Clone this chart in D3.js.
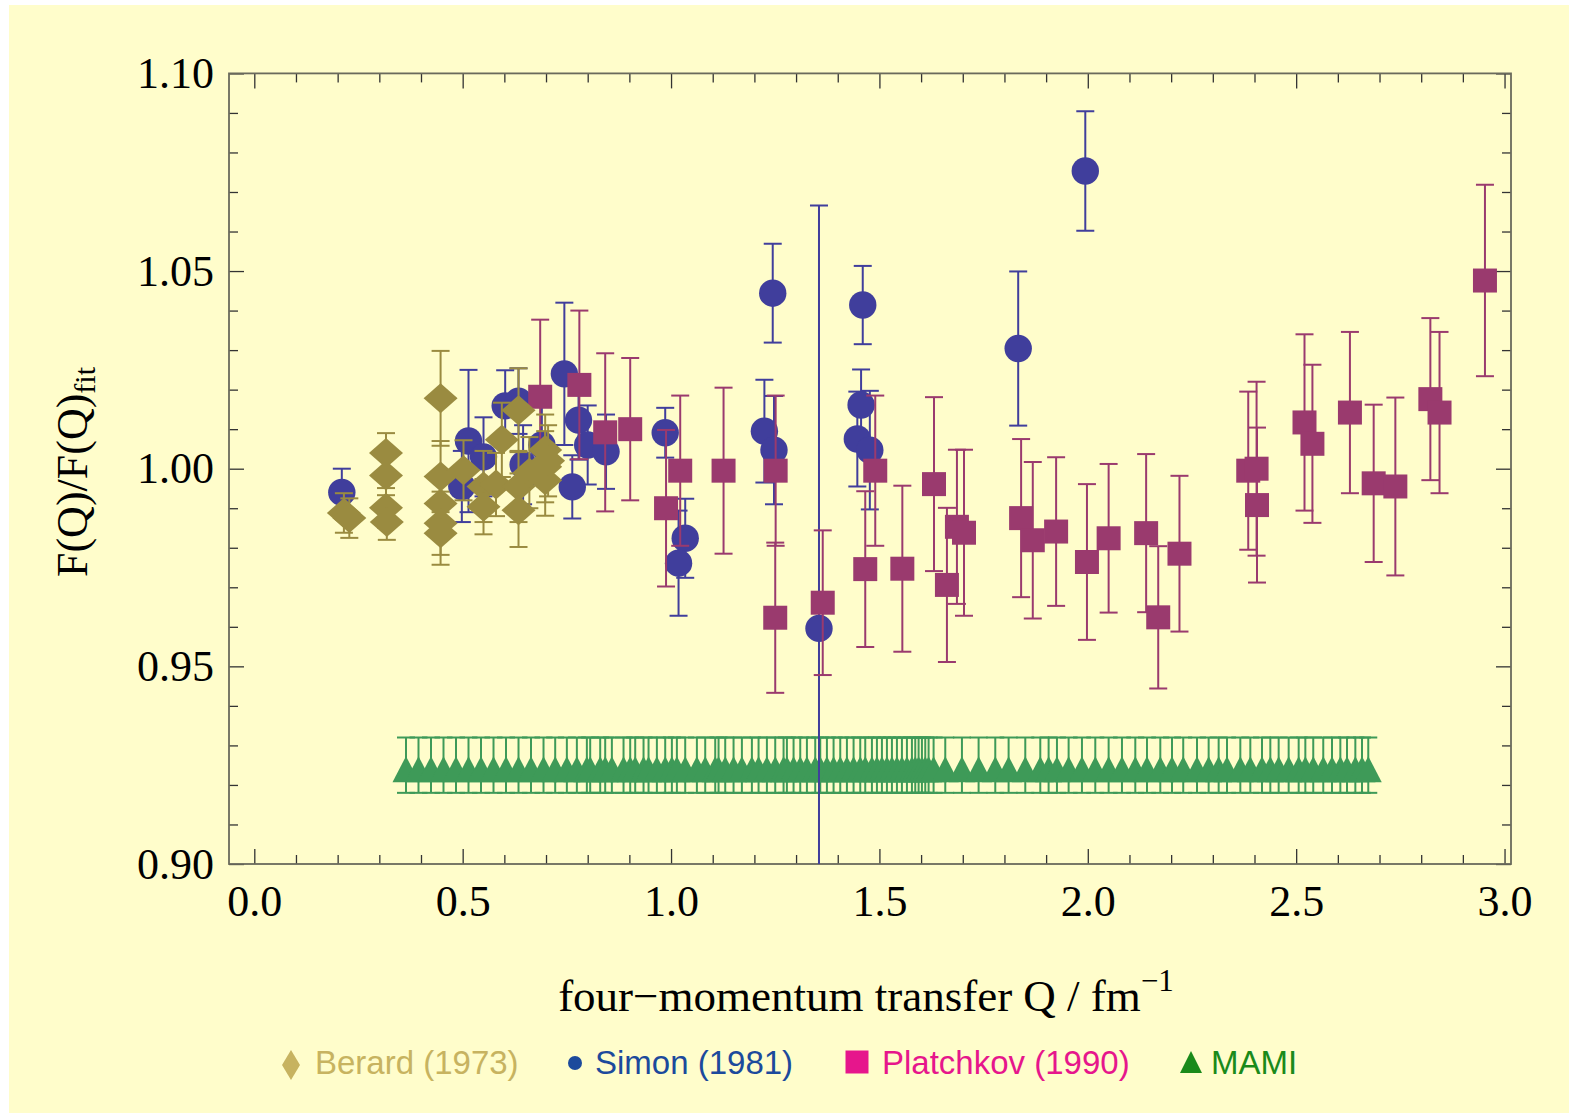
<!DOCTYPE html>
<html>
<head>
<meta charset="utf-8">
<script src="https://cdn.jsdelivr.net/npm/d3@7"></script>
<style>
  body { margin: 0; background: #fff; }
</style>
</head>
<body>
<svg id="chart" width="1576" height="1115"></svg>
<script>
// ---- data ----
const berardQ = [0.215, 0.228, 0.316, 0.316, 0.316, 0.318, 0.447, 0.447, 0.447, 0.447, 0.447, 0.502, 0.550, 0.550, 0.580, 0.594, 0.634, 0.634, 0.634, 0.660, 0.698, 0.698, 0.698, 0.705];
const berardR = [0.9888, 0.9875, 1.0040, 0.9983, 0.9901, 0.9865, 1.0178, 0.9980, 0.9912, 0.9862, 0.9837, 0.9996, 0.9955, 0.9904, 0.9960, 1.0073, 1.0148, 0.9955, 0.9895, 0.9990, 1.0047, 1.0005, 0.9971, 1.0020];
const berardE = [0.005, 0.005, 0.005, 0.005, 0.005, 0.0045, 0.012, 0.009, 0.008, 0.008, 0.008, 0.0076, 0.009, 0.007, 0.008, 0.0094, 0.0106, 0.009, 0.0093, 0.009, 0.009, 0.009, 0.009, 0.009];

const simonQ = [0.210, 0.498, 0.514, 0.550, 0.602, 0.634, 0.645, 0.690, 0.744, 0.778, 0.763, 0.800, 0.844, 0.986, 1.034, 1.018, 1.224, 1.244, 1.247, 1.355, 1.447, 1.456, 1.460, 1.477, 1.833, 1.994];
const simonR = [0.9940, 0.9955, 1.0070, 1.0030, 1.0159, 1.0171, 1.0010, 1.0060, 1.0240, 1.0123, 0.9954, 1.0060, 1.0043, 1.0091, 0.9824, 0.9761, 1.0095, 1.0444, 1.0047, 0.9596, 1.0075, 1.0161, 1.0414, 1.0047, 1.0304, 1.0753];
const simonE = [0.006, 0.009, 0.018, 0.010, 0.009, 0.0083, 0.010, 0.010, 0.018, 0.010, 0.008, 0.010, 0.0094, 0.0063, 0.010, 0.0133, 0.013, 0.0125, 0.0137, 0.107, 0.012, 0.009, 0.0099, 0.015, 0.0195, 0.0151];

const platchkovQ = [0.686, 0.780, 0.842, 0.902, 0.988, 1.022, 1.126, 1.251, 1.250, 1.364, 1.466, 1.490, 1.555, 1.631, 1.662, 1.686, 1.703, 1.840, 1.868, 1.924, 1.998, 2.050, 2.140, 2.169, 2.220, 2.385, 2.405, 2.406, 2.520, 2.539, 2.629, 2.686, 2.738, 2.822, 2.844, 2.953];
const platchkovR = [1.0182, 1.0212, 1.0092, 1.0100, 0.9900, 0.9995, 0.9995, 0.9995, 0.9623, 0.9661, 0.9746, 0.9995, 0.9747, 0.9961, 0.9706, 0.9853, 0.9838, 0.9875, 0.9819, 0.9841, 0.9764, 0.9824, 0.9837, 0.9624, 0.9785, 0.9995, 1.0000, 0.9908, 1.0117, 1.0063, 1.0142, 0.9963, 0.9955, 1.0176, 1.0142, 1.0476];
const platchkovE = [0.0195, 0.0188, 0.020, 0.018, 0.0198, 0.019, 0.021, 0.019, 0.019, 0.0183, 0.0197, 0.019, 0.021, 0.022, 0.0195, 0.0195, 0.021, 0.020, 0.0198, 0.0188, 0.0197, 0.0188, 0.020, 0.018, 0.0197, 0.020, 0.022, 0.0196, 0.0223, 0.020, 0.0204, 0.0199, 0.0225, 0.0205, 0.0204, 0.0242];

const mamiQ = [0.364, 0.394, 0.424, 0.454, 0.484, 0.514, 0.544, 0.574, 0.604, 0.634, 0.664, 0.694, 0.722, 0.750, 0.774, 0.798, 0.806, 0.830, 0.842, 0.858, 0.886, 0.902, 0.914, 0.934, 0.946, 0.966, 0.986, 1.002, 1.014, 1.034, 1.062, 1.082, 1.106,
  1.114, 1.130, 1.150, 1.170, 1.194, 1.210, 1.230, 1.250, 1.270, 1.278, 1.294, 1.310, 1.326, 1.346, 1.358, 1.374, 1.390, 1.406, 1.422, 1.438, 1.454, 1.466, 1.482, 1.494, 1.506, 1.518, 1.530, 1.542, 1.554, 1.566, 1.578, 1.586, 1.594, 1.602, 1.610, 1.618, 1.630,
  1.658, 1.698, 1.738, 1.778, 1.810, 1.850, 1.886,
  1.906, 1.926, 1.954, 1.986, 2.018, 2.050, 2.082, 2.114, 2.142, 2.174, 2.202, 2.229, 2.262, 2.290, 2.314, 2.334, 2.366, 2.390, 2.418, 2.438, 2.458, 2.482, 2.506, 2.522, 2.541, 2.565, 2.586, 2.606, 2.622, 2.642, 2.658, 2.673];
const mamiR = 0.925;
const mamiE = 0.007;

const xMajor = [0.0, 0.5, 1.0, 1.5, 2.0, 2.5, 3.0];
const yMajor = [0.90, 0.95, 1.00, 1.05, 1.10];
const legendNames = ["Berard (1973)", "Simon (1981)", "Platchkov (1990)", "MAMI"];

// ---- layout ----
const svg = d3.select("#chart");
const L = 229, R = 1511, T = 73.4, B = 864;

svg.append("rect").attr("x", 9).attr("y", 5).attr("width", 1560).attr("height", 1108).attr("fill", "#fffdcb");

const x = d3.scaleLinear().domain([-0.0607, 3.0155]).range([L, R]);
const y = d3.scaleLinear().domain([0.90, 1.10]).range([B, T]);

const xMinor = d3.range(0, 3.01, 0.1).filter(v => Math.abs(v * 2 - Math.round(v * 2)) > 1e-6);
const yMinor = d3.range(0.90, 1.1001, 0.01).filter(v => Math.abs(v * 20 - Math.round(v * 20)) > 1e-6);

function styleAxis(g) {
  g.select(".domain").remove();
  g.selectAll("line").attr("stroke", "#333").attr("stroke-width", 1.3);
  g.selectAll("text").attr("font-family", "Liberation Serif").attr("font-size", 44).attr("fill", "#000");
}

svg.append("g").attr("transform", `translate(0,${B})`)
  .call(d3.axisBottom(x).tickValues(xMajor).tickSize(-15).tickPadding(21).tickFormat(d3.format(".1f"))).call(styleAxis);
svg.append("g").attr("transform", `translate(0,${B})`)
  .call(d3.axisBottom(x).tickValues(xMinor).tickSize(-9).tickFormat("")).call(styleAxis);
svg.append("g").attr("transform", `translate(0,${T})`)
  .call(d3.axisTop(x).tickValues(xMajor).tickSize(-15).tickFormat("")).call(styleAxis);
svg.append("g").attr("transform", `translate(0,${T})`)
  .call(d3.axisTop(x).tickValues(xMinor).tickSize(-9).tickFormat("")).call(styleAxis);

svg.append("g").attr("transform", `translate(${L},0)`)
  .call(d3.axisLeft(y).tickValues(yMajor).tickSize(-15).tickPadding(15).tickFormat(d3.format(".2f"))).call(styleAxis);
svg.append("g").attr("transform", `translate(${L},0)`)
  .call(d3.axisLeft(y).tickValues(yMinor).tickSize(-9).tickFormat("")).call(styleAxis);
svg.append("g").attr("transform", `translate(${R},0)`)
  .call(d3.axisRight(y).tickValues(yMajor).tickSize(-15).tickFormat("")).call(styleAxis);
svg.append("g").attr("transform", `translate(${R},0)`)
  .call(d3.axisRight(y).tickValues(yMinor).tickSize(-9).tickFormat("")).call(styleAxis);

svg.append("rect").attr("x", L).attr("y", T).attr("width", R - L).attr("height", B - T)
  .attr("fill", "none").attr("stroke", "#6a6a5c").attr("stroke-width", 1.8);

svg.append("defs").append("clipPath").attr("id", "plotclip")
  .append("rect").attr("x", L).attr("y", T).attr("width", R - L).attr("height", B - T);

const plot = svg.append("g").attr("clip-path", "url(#plotclip)");

// marker shapes
const diamond = (hw, hh) => `M0,${-hh}L${hw},0L0,${hh}L${-hw},0Z`;
const square = s => `M${-s},${-s}H${s}V${s}H${-s}Z`;
const triangle = (hw, up, down) => `M0,${-up}L${hw},${down}L${-hw},${down}Z`;
const circle = r => `M${r},0A${r},${r} 0 1,1 ${-r},0A${r},${r} 0 1,1 ${r},0Z`;

function drawSeries(qs, rs, es, color, shape) {
  const pts = qs.map((q, i) => ({ q: q, r: Array.isArray(rs) ? rs[i] : rs, e: Array.isArray(es) ? es[i] : es }));
  const g = plot.append("g");
  const bars = g.append("g").attr("stroke", color).attr("stroke-width", 2).attr("fill", "none");
  pts.forEach(d => {
    const cx = x(d.q), y1 = y(d.r + d.e), y2 = y(d.r - d.e);
    bars.append("line").attr("x1", cx).attr("x2", cx).attr("y1", y1).attr("y2", y2);
    bars.append("line").attr("x1", cx - 9).attr("x2", cx + 9).attr("y1", y1).attr("y2", y1);
    bars.append("line").attr("x1", cx - 9).attr("x2", cx + 9).attr("y1", y2).attr("y2", y2);
  });
  g.append("g").selectAll("path").data(pts).join("path")
    .attr("d", shape)
    .attr("transform", d => `translate(${x(d.q)},${y(d.r)})`)
    .attr("fill", color);
}

drawSeries(mamiQ, mamiR, mamiE, "#3e9a58", triangle(13.5, 9, 17));
drawSeries(simonQ, simonR, simonE, "#403e9c", circle(13.7));
drawSeries(platchkovQ, platchkovR, platchkovE, "#9a3a6e", square(12));
drawSeries(berardQ, berardR, berardE, "#9a8b40", diamond(17, 15));

// ---- titles ----
const yt = svg.append("text").attr("transform", "translate(87,472) rotate(-90)")
  .attr("text-anchor", "middle").attr("font-family", "Liberation Serif").attr("font-size", 44);
yt.append("tspan").text("F(Q)/F(Q)");
yt.append("tspan").attr("font-size", 30).attr("dy", 8).text("fit");

const xt = svg.append("text").attr("x", 866).attr("y", 1011)
  .attr("text-anchor", "middle").attr("font-family", "Liberation Serif").attr("font-size", 45);
xt.append("tspan").text("four\u2212momentum transfer Q / fm");
xt.append("tspan").attr("font-size", 31).attr("dy", -20).text("\u22121");

// ---- legend ----
const legendColors = ["#c7b360", "#1c4a9c", "#e6168c", "#1a8a1a"];
const legendSym = [diamond(9, 15), circle(7), square(11.5), triangle(11, 12, 10)];
const legendSymX = [291, 575, 857, 1191];
const legendSymY = [1065, 1063, 1062, 1063];
const legendTextX = [315, 595, 882, 1211];
const legend = svg.append("g");
legendNames.forEach((name, i) => {
  legend.append("path").attr("d", legendSym[i]).attr("fill", legendColors[i])
    .attr("transform", `translate(${legendSymX[i]},${legendSymY[i]})`);
  legend.append("text").attr("x", legendTextX[i]).attr("y", 1074)
    .attr("font-family", "Liberation Sans").attr("font-size", 33).attr("fill", legendColors[i]).text(name);
});
</script>
</body>
</html>
